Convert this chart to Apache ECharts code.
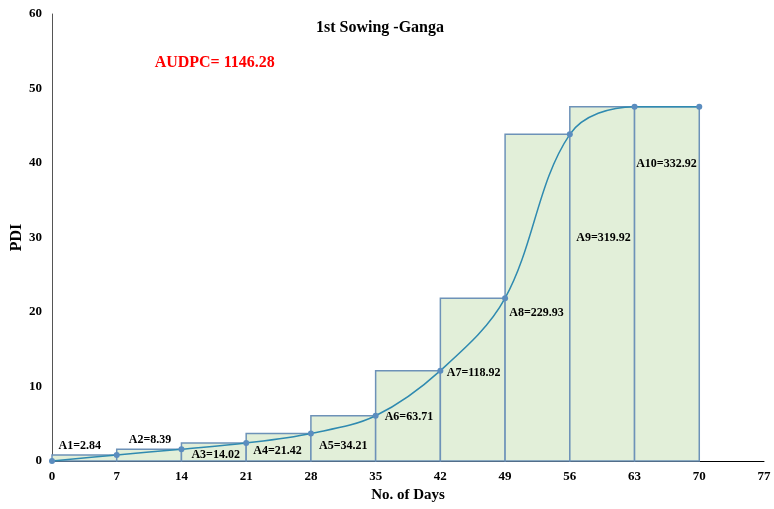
<!DOCTYPE html>
<html>
<head>
<meta charset="utf-8">
<script src="https://cdn.jsdelivr.net/npm/echarts@6/dist/echarts.min.js"></script>
<style>html,body{margin:0;padding:0;background:#fff}#c{width:774px;height:509px}</style>
</head>
<body>
<div id="c"></div>
<script>
// ---- data ----
const days = [0, 7, 14, 21, 28, 35, 42, 49, 56, 63, 70];
const pdi = [0, 0.81, 1.59, 2.42, 3.70, 6.07, 12.13, 21.85, 43.85, 47.56, 47.56];
const areas = [2.84, 8.39, 14.02, 21.42, 34.21, 63.71, 118.92, 229.93, 319.92, 332.92];
const audpcTotal = 1146.28;
const titleText = '1st Sowing -Ganga';

// ---- layout: label anchors in data units (days, PDI) ----
const labelAt = [[3.0, 2.0], [10.6, 2.8], [17.7, 0.8], [24.4, 1.35], [31.5, 2.0],
                 [38.6, 5.9], [45.6, 11.8], [52.4, 19.9], [59.65, 29.9], [66.45, 39.9]];

const FONT = '"Liberation Serif","Times New Roman",serif';

const rectData = [];
for (let i = 0; i < days.length - 1; i++) rectData.push([days[i], days[i + 1], pdi[i + 1]]);
const lineData = days.map((d, i) => [d, pdi[i]]);
const labelData = areas.map((a, i) => [labelAt[i][0], labelAt[i][1], 'A' + (i + 1) + '=' + a.toFixed(2)]);

const chart = echarts.init(document.getElementById('c'));
chart.setOption({
  animation: false,
  backgroundColor: '#fff',
  grid: { left: 52, right: 10, top: 14, bottom: 48, containLabel: false, outerBoundsMode: 'none' },
  graphic: [
    { type: 'text', x: 380, y: 28, style: { text: titleText, font: 'bold 16px ' + FONT, fill: '#000', textAlign: 'center', textVerticalAlign: 'middle' } }
  ],
  xAxis: {
    type: 'value', min: 0, max: 77, interval: 7,
    name: 'No. of Days', nameLocation: 'middle', nameGap: 27, nameMoveOverlap: false,
    nameTextStyle: { fontFamily: FONT, fontWeight: 'bold', fontSize: 15, color: '#000' },
    axisLine: { show: true, lineStyle: { color: '#000', width: 1 } },
    axisTick: { show: false },
    splitLine: { show: false },
    axisLabel: { fontFamily: FONT, fontWeight: 'bold', fontSize: 13, color: '#000', margin: 9 }
  },
  yAxis: {
    type: 'value', min: 0, max: 60, interval: 10,
    name: 'PDI', nameLocation: 'middle', nameGap: 27, nameMoveOverlap: false,
    nameTextStyle: { fontFamily: FONT, fontWeight: 'bold', fontSize: 16, color: '#000' },
    axisLine: { show: true, lineStyle: { color: '#555', width: 1 } },
    axisTick: { show: false },
    splitLine: { show: false },
    axisLabel: { fontFamily: FONT, fontWeight: 'bold', fontSize: 13, color: '#000', margin: 10 }
  },
  series: [
    {
      type: 'custom', data: rectData, encode: { x: [0, 1], y: 2 }, z: 1,
      renderItem: function (params, api) {
        const p0 = api.coord([api.value(0), api.value(2)]);
        const p1 = api.coord([api.value(1), 0]);
        return { type: 'rect', shape: { x: p0[0], y: p0[1], width: p1[0] - p0[0], height: p1[1] - p0[1] },
                 style: { fill: '#e2efd9', stroke: '#6d92b8', lineWidth: 1.5 } };
      }
    },
    {
      type: 'line', data: lineData, smooth: 0.35, z: 3,
      symbol: 'circle', symbolSize: 6,
      lineStyle: { color: '#2f8ab0', width: 1.5 },
      itemStyle: { color: '#5b8dbf' }
    },
    {
      type: 'custom', data: labelData, encode: { x: 0, y: 1 }, z: 5,
      renderItem: function (params, api) {
        const p = api.coord([api.value(0), api.value(1)]);
        return { type: 'text', x: p[0], y: p[1],
                 style: { text: labelData[params.dataIndex][2], font: 'bold 12px ' + FONT, fill: '#000', textAlign: 'center', textVerticalAlign: 'middle' } };
      }
    },
    {
      type: 'custom', data: [[17.6, 53.4]], encode: { x: 0, y: 1 }, z: 5,
      renderItem: function (params, api) {
        const p = api.coord([api.value(0), api.value(1)]);
        return { type: 'text', x: p[0], y: p[1],
                 style: { text: 'AUDPC= ' + audpcTotal.toFixed(2), font: 'bold 16px ' + FONT, fill: '#ff0000', textAlign: 'center', textVerticalAlign: 'middle' } };
      }
    }
  ]
});
</script>
</body>
</html>
